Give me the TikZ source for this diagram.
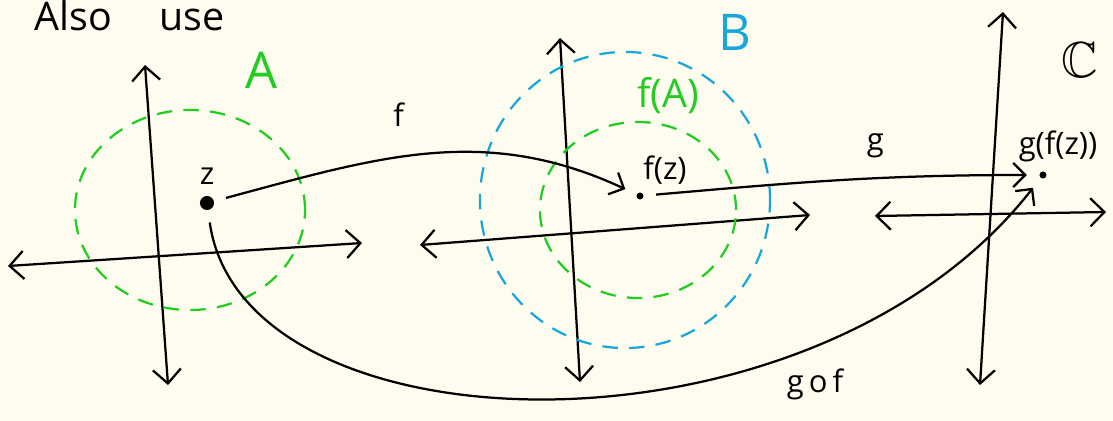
\documentclass[tikz,border=0pt]{standalone}
\usepackage{fontspec}
\usepackage{amssymb}
\setmainfont{Open Sans}
\usetikzlibrary{arrows.meta}

\definecolor{paper}{HTML}{FEFCEF}
\definecolor{setgreen}{HTML}{22CC22}
\definecolor{setblue}{HTML}{1BA6DA}

\tikzset{
    axis/.style={black,line width=1.6pt,{Straight Barb[length=3.5mm,width=7mm]}-{Straight Barb[length=3.5mm,width=7mm]}},
    map/.style={black,line width=1.6pt,-{Straight Barb[length=3mm,width=6mm]}},
    region/.style={line width=1.6pt,dash pattern=on 11pt off 8pt},
    pt/.style={circle,fill=black,inner sep=0pt,minimum size=#1,outer sep=9pt},
    hand/.style={font=\fontsize{22}{24}\selectfont},
    big/.style={font=\fontsize{36}{38}\selectfont}
}

\begin{document}
\begin{tikzpicture}[x=0.025cm,y=-0.025cm]
        \fill[paper] (0,0) rectangle (1113,421);
        \useasboundingbox (0,0) rectangle (1113,421);

        \node[font=\fontsize{28}{30}\selectfont,anchor=base west] (title) at (30,30) {Also\hspace{1.2em}use};

        % the three planes
        \coordinate (aN) at (145,65);
        \coordinate (aS) at (168,385);
        \coordinate (aW) at (8,266);
        \coordinate (aE) at (362,243);
        \coordinate (bN) at (560,38);
        \coordinate (bS) at (580,382);
        \coordinate (bW) at (420,245);
        \coordinate (bE) at (810,215);
        \coordinate (cN) at (1003,12);
        \coordinate (cS) at (980,385);
        \coordinate (cW) at (875,216);
        \coordinate (cE) at (1106,212);

        \draw[axis] (aS) -- (aN);
        \draw[axis] (aW) -- (aE);
        \draw[axis] (bS) -- (bN);
        \draw[axis] (bW) -- (bE);
        \draw[axis] (cS) -- (cN);
        \draw[axis] (cW) -- (cE);

        % sets
        \draw[region,setgreen] (190,210) ellipse [x radius=2.875cm,y radius=2.5cm];
        \draw[region,setblue] (625,200) ellipse [x radius=3.625cm,y radius=3.7cm];
        \draw[region,setgreen] (638,210) ellipse [x radius=2.45cm,y radius=2.2cm];

        \node[big,setgreen] (lA) at (262,70) {A};
        \node[big,setblue] (lB) at (735,32) {B};
        \node[hand,setgreen,font=\fontsize{28}{30}\selectfont] (lfA) at (668,96) {f(A)};
        \node[big] (lC) at (1080,60) {$\mathbb{C}$};

        % points
        \node[pt=10pt] (z) at (207,203) {};
        \node[pt=5pt] (fz) at (640,196) {};
        \node[pt=5pt] (gfz) at (1043,175) {};
        \node[hand] (lz) at (207,176) {z};
        \node[hand] (lfz) at (665,170) {f(z)};
        \node[hand] (lgfz) at (1058,146) {g(f(z))};

        % maps
        \draw[map] (z) to[out=15,in=155] node[pos=0.42,above=18pt,hand] (lf) {f} (fz);
        \draw[map] (fz) to[out=5,in=180] node[pos=0.6,above=10pt,hand] (lg) {g} (gfz);
        \draw[map] (z) to[out=-82,in=-128,out distance=5.9cm,in distance=9cm] (gfz);
        \node[hand] (lgf) at (815,384) {g\,o\,f};
    \end{tikzpicture}
\end{document}
